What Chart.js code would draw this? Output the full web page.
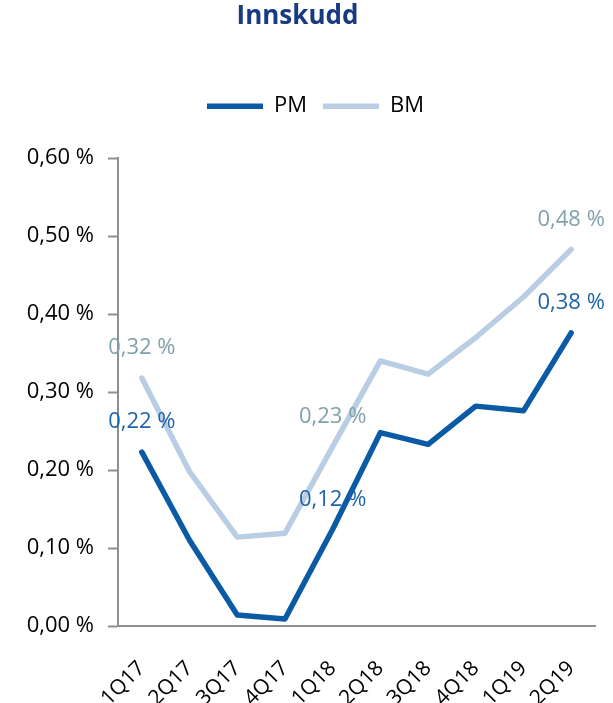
<!DOCTYPE html>
<html>
<head>
<meta charset="utf-8">
<script src="https://cdn.jsdelivr.net/npm/chart.js@4/dist/chart.umd.min.js"></script>
<style>
  html, body { margin: 0; padding: 0; background: #fff; }
  canvas { display: block; }
</style>
</head>
<body>
<canvas id="chart" width="613" height="703"></canvas>
<script>
// quarters on the x axis
const quarters = ["1Q17", "2Q17", "3Q17", "4Q17", "1Q18", "2Q18", "3Q18", "4Q18", "1Q19", "2Q19"];
// values in percent
const pmValues = [0.223, 0.110, 0.014, 0.009, 0.124, 0.248, 0.233, 0.282, 0.276, 0.376];
const bmValues = [0.318, 0.198, 0.114, 0.119, 0.230, 0.340, 0.323, 0.370, 0.422, 0.483];
// points that carry a value label
const labelledIdx = [0, 4, 9];
const yTicks = [0, 0.1, 0.2, 0.3, 0.4, 0.5, 0.6];

const FONT = "'Open Sans', sans-serif";
const fmt = (v) => v.toFixed(2).replace(".", ",") + " %";

// draws the value labels above the chosen points
const valueLabels = {
  id: "valueLabels",
  afterDatasetsDraw(chart) {
    const ctx = chart.ctx;
    ctx.save();
    ctx.font = "22px " + FONT;
    ctx.textAlign = "center";
    ctx.textBaseline = "middle";
    chart.data.datasets.forEach((ds, di) => {
      const meta = chart.getDatasetMeta(di);
      ctx.fillStyle = ds.labelColor;
      labelledIdx.forEach((i) => {
        const pt = meta.data[i];
        ctx.fillText(fmt(ds.data[i]), pt.x, pt.y - 30);
      });
    });
    ctx.restore();
  },
};

// extra room under the legend, and nudge it a bit to the right
const legendGap = {
  id: "legendGap",
  beforeLayout(chart) {
    const lg = chart.legend;
    if (lg && !lg._gapPatched) {
      const origFit = lg.fit;
      lg.fit = function () {
        origFit.call(this);
        this.height += 31;
      };
      lg._gapPatched = true;
    }
  },
  afterLayout(chart) {
    const lg = chart.legend;
    if (lg) {
      lg.left += 18;
      lg.right += 18;
    }
  },
};

const ctx = document.getElementById("chart").getContext("2d");
new Chart(ctx, {
  type: "line",
  data: {
    labels: quarters,
    datasets: [
      {
        label: "PM",
        data: pmValues,
        borderColor: "#0B5AA5",
        backgroundColor: "#0B5AA5",
        labelColor: "#1F63AA",
        borderWidth: 5.5,
        borderCapStyle: "round",
        borderJoinStyle: "round",
        pointRadius: 0,
        tension: 0,
        fill: false,
      },
      {
        label: "BM",
        data: bmValues,
        borderColor: "#B9CDE5",
        backgroundColor: "#B9CDE5",
        labelColor: "#7FA2AD",
        borderWidth: 5.5,
        borderCapStyle: "round",
        borderJoinStyle: "round",
        pointRadius: 0,
        tension: 0,
        fill: false,
      },
    ],
  },
  options: {
    responsive: false,
    animation: false,
    events: [],
    layout: { padding: { left: 0, right: 18, top: 0, bottom: 0 } },
    plugins: {
      title: {
        display: true,
        text: "Innskudd",
        color: "#173A80",
        font: { family: FONT, size: 26, weight: "bold" },
        padding: { top: 1, bottom: 47 },
      },
      legend: {
        display: true,
        labels: {
          usePointStyle: true,
          pointStyle: "line",
          pointStyleWidth: 56,
          color: "#000",
          font: { family: FONT, size: 22 },
          padding: 16,
        },
      },
      tooltip: { enabled: false },
    },
    scales: {
      x: {
        offset: true,
        grid: { display: false, drawTicks: false },
        border: { display: true, color: "#8F8F8F", width: 2 },
        ticks: {
          color: "#000",
          font: { family: FONT, size: 21 },
          maxRotation: 45,
          minRotation: 45,
          autoSkip: false,
          padding: 30,
        },
        afterFit(scale) {
          scale.height = 77;
          scale.paddingLeft = 0;
          scale.paddingRight = 0;
        },
      },
      y: {
        min: 0,
        max: 0.6,
        afterBuildTicks(scale) {
          scale.ticks = yTicks.map((v) => ({ value: v }));
        },
        grid: {
          display: true,
          drawOnChartArea: false,
          drawTicks: true,
          tickLength: 10,
          tickWidth: 2,
          tickColor: "#8F8F8F",
        },
        border: { display: true, color: "#8F8F8F", width: 2 },
        ticks: {
          color: "#000",
          font: { family: FONT, size: 22 },
          padding: 14,
          callback: (v) => fmt(v),
        },
        afterFit(scale) {
          scale.width = 118;
        },
      },
    },
  },
  plugins: [valueLabels, legendGap],
});
</script>
</body>
</html>
